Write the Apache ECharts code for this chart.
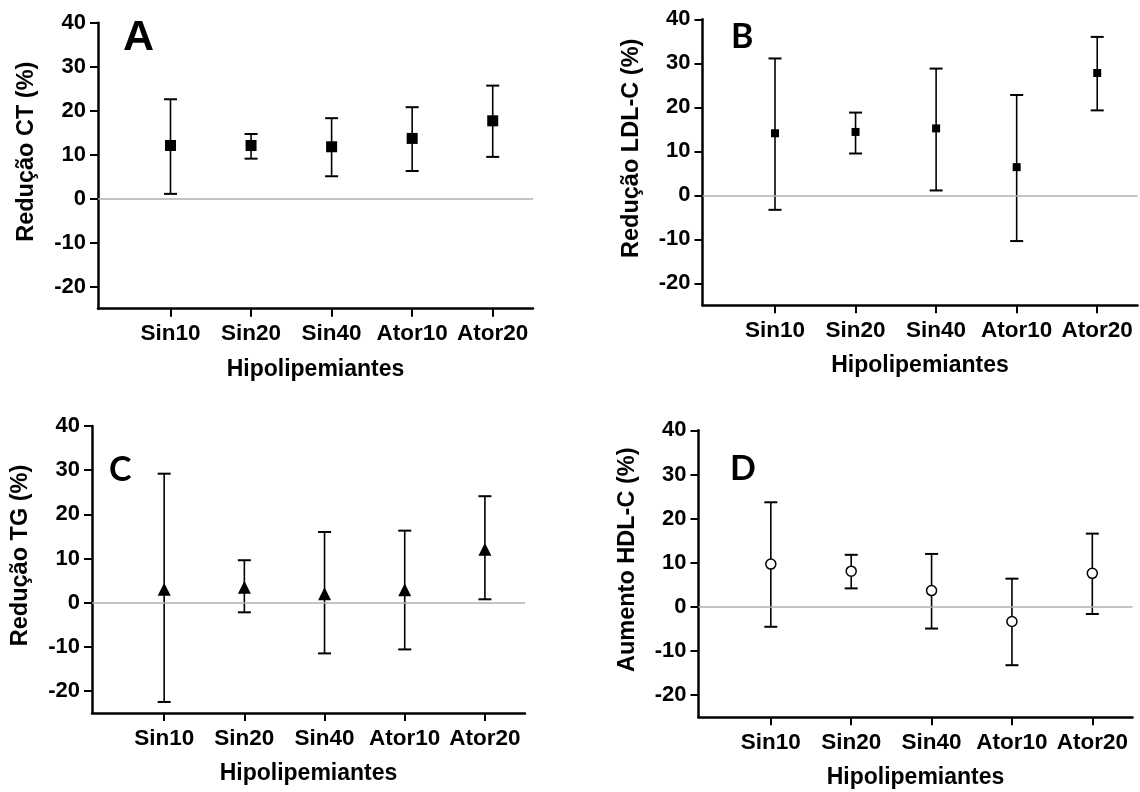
<!DOCTYPE html>
<html>
<head>
<meta charset="utf-8">
<script src="https://cdn.jsdelivr.net/npm/echarts@6/dist/echarts.min.js"></script>
<style>html,body{margin:0;padding:0;background:#fff}#c{width:1140px;height:792px}</style>
</head>
<body>
<div id="c"></div>
<script>
const categories = ['Sin10', 'Sin20', 'Sin40', 'Ator10', 'Ator20'];
const yTicks = [-20, -10, 0, 10, 20, 30, 40];

const ctMean = [12.1, 12.1, 11.8, 13.7, 17.7];
const ctLow  = [1.1, 9.1, 5.1, 6.3, 9.5];
const ctHigh = [22.6, 14.7, 18.3, 20.8, 25.7];

const ldlMean = [14.1, 14.4, 15.2, 6.4, 27.8];
const ldlLow  = [-3.3, 9.5, 1.1, -10.4, 19.3];
const ldlHigh = [31.1, 18.8, 28.8, 22.8, 36.0];

const tgMean = [3.0, 3.5, 2.0, 2.9, 12.1];
const tgLow  = [-22.5, -2.2, -11.5, -10.6, 0.75];
const tgHigh = [29.2, 9.6, 16.0, 16.3, 24.1];

const hdlMean = [9.7, 8.1, 3.7, -3.3, 7.6];
const hdlLow  = [-4.5, 4.2, -4.9, -13.2, -1.6];
const hdlHigh = [23.7, 11.8, 12.0, 6.4, 16.6];

const panels = [
  {letter: 'A', yName: 'Redução CT (%)', mean: ctMean, low: ctLow, high: ctHigh,
   grid: {left: 98, top: 22.7, width: 435, height: 286},
   symbol: 'rect', size: 11, fill: '#000'},
  {letter: 'B', yName: 'Redução LDL-C (%)', mean: ldlMean, low: ldlLow, high: ldlHigh,
   grid: {left: 702.5, top: 19.3, width: 435, height: 286},
   symbol: 'rect', size: 8, fill: '#000'},
  {letter: 'C', yName: 'Redução TG (%)', mean: tgMean, low: tgLow, high: tgHigh,
   grid: {left: 92, top: 426, width: 433, height: 287},
   symbol: 'triangle', size: 13, fill: '#000'},
  {letter: 'D', yName: 'Aumento HDL-C (%)', mean: hdlMean, low: hdlLow, high: hdlHigh,
   grid: {left: 698.5, top: 430.3, width: 434, height: 287},
   symbol: 'circle', size: 10, fill: '#fff'}
];

const FONT = 'Liberation Sans, Arial, sans-serif';
const grids = [], xAxes = [], yAxes = [], series = [];

panels.forEach((p, i) => {
  grids.push(Object.assign({containLabel: false}, p.grid));
  xAxes.push({
    type: 'value', gridIndex: i, min: 0.1, max: 5.5,
    name: 'Hipolipemiantes', nameLocation: 'middle', nameGap: 49,
    nameTextStyle: {fontFamily: FONT, fontWeight: 'bold', fontSize: 23, color: '#000'},
    axisLine: {show: true, onZero: false, lineStyle: {color: '#000', width: 2.5}},
    axisTick: {show: true, customValues: [1, 2, 3, 4, 5], length: 8, lineStyle: {color: '#000', width: 2}},
    axisLabel: {show: true, customValues: [1, 2, 3, 4, 5], margin: 14,
      formatter: v => categories[Math.round(v) - 1] || '',
      fontFamily: FONT, fontWeight: 'bold', fontSize: 22.5, color: '#000'},
    splitLine: {show: false}
  });
  yAxes.push({
    type: 'value', gridIndex: i, min: -25, max: 40,
    name: p.yName, nameLocation: 'middle', nameGap: 59, nameRotate: 90,
    nameTextStyle: {fontFamily: FONT, fontWeight: 'bold', fontSize: 23.5, color: '#000', padding: [0, 0, 0, 28]},
    axisLine: {show: true, onZero: false, lineStyle: {color: '#000', width: 2.5}},
    axisTick: {show: true, customValues: yTicks, length: 8, lineStyle: {color: '#000', width: 2}},
    axisLabel: {show: true, customValues: yTicks, margin: 12,
      fontFamily: FONT, fontWeight: 'bold', fontSize: 22, color: '#000'},
    splitLine: {show: false}
  });
  // zero reference line
  series.push({
    type: 'line', xAxisIndex: i, yAxisIndex: i, data: [], z: 1, silent: true,
    markLine: {silent: true, symbol: 'none', label: {show: false},
      lineStyle: {color: '#b0b0b0', width: 1.5, type: 'solid'},
      data: [{yAxis: 0}]}
  });
  // error bars
  series.push({
    type: 'custom', xAxisIndex: i, yAxisIndex: i, z: 2, silent: true,
    data: categories.map((c, k) => [k + 1, p.low[k], p.high[k]]),
    renderItem: function (params, api) {
      const x = api.value(0);
      const lo = api.coord([x, api.value(1)]);
      const hi = api.coord([x, api.value(2)]);
      const w = 6.5;
      const st = {stroke: '#000', lineWidth: 1.6};
      const cs = {stroke: '#000', lineWidth: 2};
      return {type: 'group', children: [
        {type: 'line', shape: {x1: lo[0], y1: lo[1], x2: hi[0], y2: hi[1]}, style: st},
        {type: 'line', shape: {x1: lo[0] - w, y1: lo[1], x2: lo[0] + w, y2: lo[1]}, style: cs},
        {type: 'line', shape: {x1: hi[0] - w, y1: hi[1], x2: hi[0] + w, y2: hi[1]}, style: cs}
      ]};
    }
  });
  // means
  series.push({
    type: 'scatter', xAxisIndex: i, yAxisIndex: i, z: 3, silent: true,
    symbol: p.symbol, symbolSize: p.size,
    itemStyle: {color: p.fill, borderColor: '#000', borderWidth: p.fill === '#fff' ? 1.5 : 0, opacity: 1},
    data: categories.map((c, k) => [k + 1, p.mean[k]])
  });
});

const letterStyle = (txt, size, fam) => ({fill: '#000', text: txt, font: 'bold ' + size + 'px ' + fam});
const graphic = [
  {type: 'text', left: 123, top: 17, style: letterStyle('A', 43, FONT)},
  {type: 'text', left: 731, top: 20, style: letterStyle('B', 34, 'Lato, sans-serif')},
  {type: 'text', left: 109, top: 453, style: letterStyle('C', 34, 'Lato, sans-serif')},
  {type: 'text', left: 730, top: 452, style: letterStyle('D', 34, 'Lato, sans-serif')}
];

const chart = echarts.init(document.getElementById('c'), null, {renderer: 'canvas'});
chart.setOption({
  animation: false,
  backgroundColor: '#fff',
  grid: grids, xAxis: xAxes, yAxis: yAxes, series: series, graphic: graphic
});
</script>
</body>
</html>
